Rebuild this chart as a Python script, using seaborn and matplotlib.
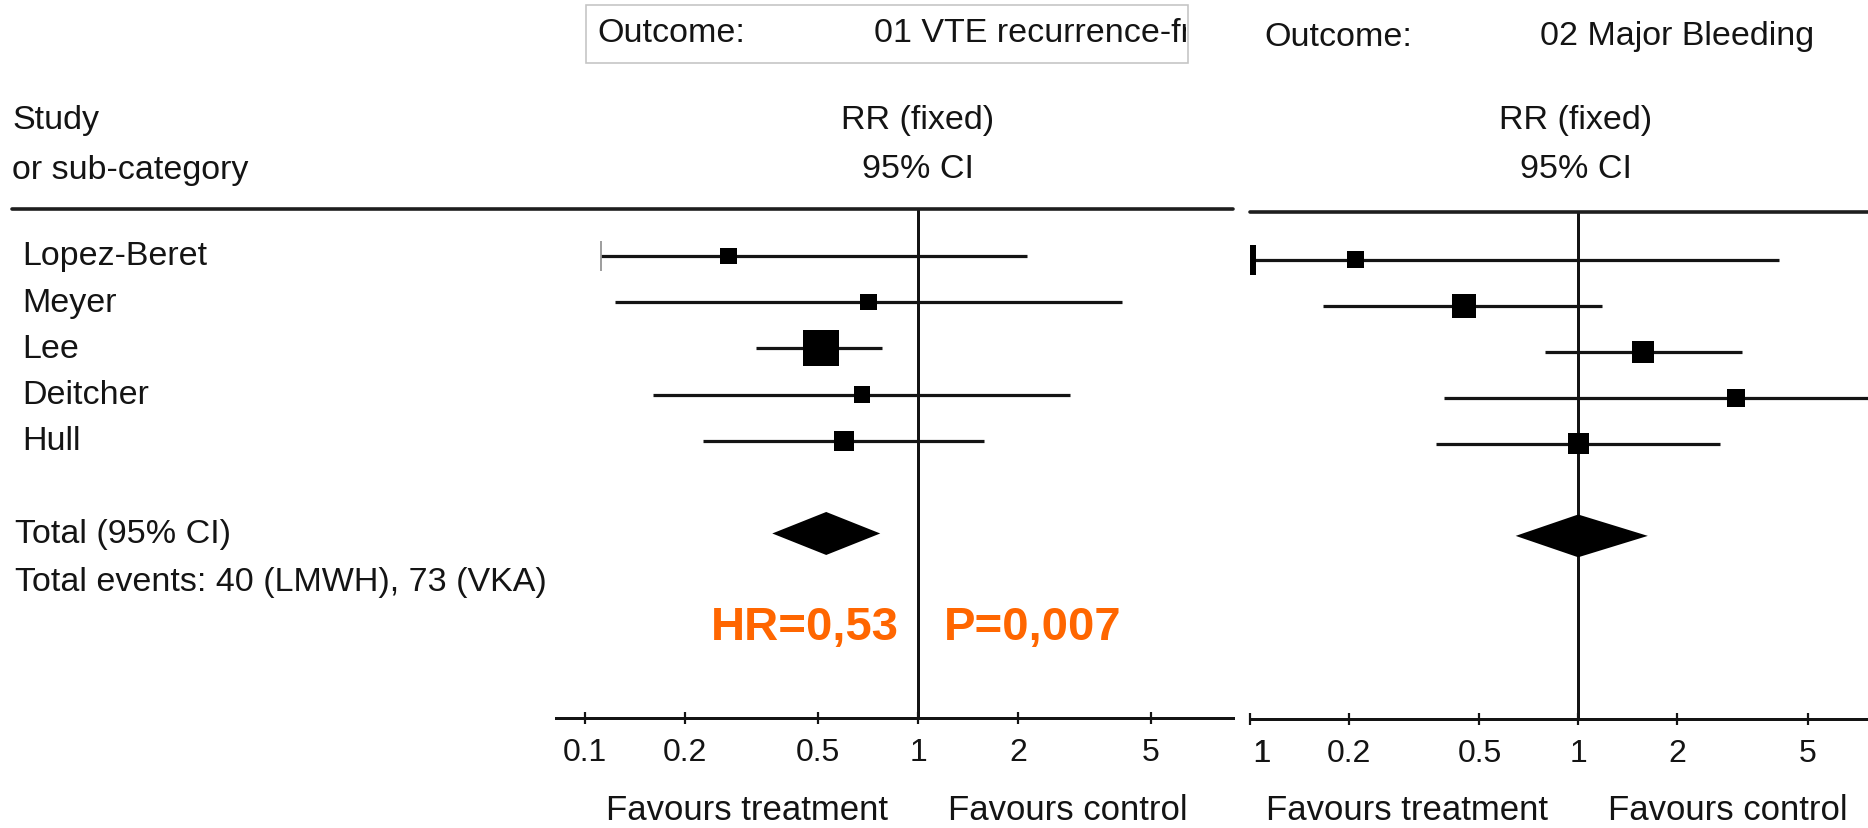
import numpy as np
import pandas as pd
import matplotlib
matplotlib.use("Agg")
import matplotlib.pyplot as plt
import seaborn as sns
from matplotlib.lines import Line2D
from matplotlib.patches import Rectangle
from matplotlib.ticker import NullLocator
from matplotlib.transforms import blended_transform_factory, offset_copy, Bbox, TransformedBbox

# ---------------- data ----------------
studies = ["Lopez-Beret", "Meyer", "Lee", "Deitcher", "Hull"]

# 01 VTE recurrence
vte_rr = [0.27, 0.71, 0.51, 0.68, 0.60]
vte_lo = [0.112, 0.123, 0.327, 0.16, 0.226]
vte_hi = [2.13, 4.10, 0.78, 2.87, 1.58]
vte_weight = [10.8, 10.8, 51.6, 10.8, 15.9]
vte_total = [0.365, 0.53, 0.77]          # lower, estimate, upper

# 02 Major bleeding
bleed_rr = [0.21, 0.45, 1.58, 3.03, 1.00]
bleed_lo = [0.05, 0.167, 0.79, 0.39, 0.37]
bleed_hi = [4.1, 1.18, 3.16, 9.0, 2.71]
bleed_weight = [13.7, 27.2, 22.9, 15.3, 20.9]
bleed_total = [0.645, 1.00, 1.63]

tick_values = [0.1, 0.2, 0.5, 1, 2, 5]
tick_labels = ["0.1", "0.2", "0.5", "1", "2", "5"]

outcome_left = "01 VTE recurrence-free"
outcome_right = "02 Major Bleeding"
total_label = "Total (95% CI)"
events_label = "Total events: 40 (LMWH), 73 (VKA)"
hr_label = "HR=0,53"
p_label = "P=0,007"

# ---------------- style ----------------
sns.set_theme(style="white")
plt.rcParams['font.family'] = ['Liberation Sans', 'DejaVu Sans']

W, H = 1868, 829
fig = plt.figure(figsize=(W / 100, H / 100), dpi=100)
PX = 72 / 100  # points per pixel
INK = '#141414'
ORANGE = '#FF6600'
FS = 24.5
TICK_FS = 23
TICK_LEN = 9
TICK_PAD = 9


def fx(px):
    return px / W


def fy(py):
    return 1 - py / H


axL = fig.add_axes([fx(556), fy(719), fx(1233) - fx(556), fy(210) - fy(719)])
axR = fig.add_axes([fx(1250), fy(720), fx(1868) - fx(1250), fy(213) - fy(720)])


def forest(ax, rr, lo, hi, wt, total, xlim, ylim, max_side_px):
    ax.set_xscale('log')
    rows = np.arange(len(rr))
    ax.axvline(1, color=INK, lw=3 * PX, zorder=1)
    ax.hlines(rows, lo, hi, color=INK, lw=3.2 * PX, zorder=2)
    w = np.asarray(wt, dtype=float)
    side_pt = max_side_px * PX * np.sqrt(w / w.max())
    df = pd.DataFrame({'rr': rr, 'row': rows})
    sns.scatterplot(data=df, x='rr', y='row', marker='s', s=side_pt ** 2,
                    color='black', linewidth=0, ax=ax, legend=False, zorder=3)
    t_lo, t_est, t_hi = total
    tr = len(rr) + 1
    h = 21.5 / 46.25
    ax.fill([t_lo, t_est, t_hi, t_est], [tr, tr - h, tr, tr + h],
            color='black', lw=0, zorder=3)
    ax.set_xlim(*xlim)
    ax.set_ylim(*ylim)
    ax.set_xticks(tick_values)
    ax.set_xticklabels(tick_labels)
    ax.xaxis.set_minor_locator(NullLocator())
    ax.set_yticks([])
    ax.set_xlabel('')
    ax.set_ylabel('')
    for s in ['left', 'right', 'top']:
        ax.spines[s].set_visible(False)
    ax.spines['bottom'].set_linewidth(3 * PX)
    ax.spines['bottom'].set_color(INK)
    ax.tick_params(axis='x', direction='inout', length=TICK_LEN, width=2.2 * PX,
                   pad=TICK_PAD, labelsize=TICK_FS, colors=INK, bottom=True)
    ax.patch.set_alpha(0)


forest(axL, vte_rr, vte_lo, vte_hi, vte_weight, vte_total,
       (0.0818, 8.83), (9.99, -1.016), 36)
forest(axR, bleed_rr, bleed_lo, bleed_hi, bleed_weight, bleed_total,
       (0.1064, 7.64), (9.98, -1.04), 24)

# thin cap on the first VTE interval
axL.plot([vte_lo[0]], [0], marker='|', ms=30 * PX, mew=1.6 * PX, color='#888888', zorder=2)
# truncated lower bound in the bleeding panel
xl = axR.get_xlim()[0]
for i, v in enumerate(bleed_lo):
    if v < xl:
        axR.plot([xl * 10 ** (3 / 333)], [i], marker='|', ms=30 * PX, mew=6 * PX,
                 color='black', zorder=4, clip_on=False)

# partially visible "0.1" tick label on the cropped right panel
trR = offset_copy(blended_transform_factory(axR.transData, axR.transAxes), fig=fig,
                  y=-(TICK_PAD + TICK_LEN / 2), units='points')
t01 = fig.text(0.1, 0, "0.1", transform=trR, ha='center', va='top',
               fontsize=TICK_FS, color=INK, zorder=3)
# the reference panel is cropped at its left edge: hide what lies left of it
fig.add_artist(Rectangle((fx(1212), fy(790)), fx(1252.5) - fx(1212), fy(727) - fy(790),
                         transform=fig.transFigure, facecolor='white',
                         edgecolor='none', zorder=10))

# ---------------- header ----------------
box = Rectangle((fx(586), fy(64)), fx(1188) - fx(586), fy(6) - fy(64),
                transform=fig.transFigure, fill=False, edgecolor='#c4c4c4', lw=1.6 * PX)
fig.add_artist(box)
fig.text(fx(597), fy(33), "Outcome:", fontsize=FS, color=INK, va='center', ha='left')
to = fig.text(fx(874), fy(33), outcome_left, fontsize=FS, color=INK, va='center', ha='left')
to.set_clip_box(TransformedBbox(Bbox([[fx(586), fy(64)], [fx(1186), fy(6)]]), fig.transFigure))
to.set_clip_on(True)
fig.text(fx(1264), fy(37), "Outcome:", fontsize=FS, color=INK, va='center', ha='left')
fig.text(fx(1540), fy(37), outcome_right, fontsize=FS, color=INK, va='center', ha='left')

fig.text(fx(12), fy(120), "Study", fontsize=FS, color=INK, va='center', ha='left')
fig.text(fx(12), fy(170), "or sub-category", fontsize=FS, color=INK, va='center', ha='left')
for cx in (918, 1576):
    fig.text(fx(cx), fy(120), "RR (fixed)", fontsize=FS, color=INK, va='center', ha='center')
    fig.text(fx(cx), fy(170), "95% CI", fontsize=FS, color=INK, va='center', ha='center')

fig.add_artist(Line2D([fx(12), fx(1233)], [fy(210), fy(210)], transform=fig.transFigure,
                      lw=3.6 * PX, color='#1e1e1e'))
fig.add_artist(Line2D([fx(1250), fx(1868)], [fy(213), fy(213)], transform=fig.transFigure,
                      lw=3.6 * PX, color='#1e1e1e'))

# ---------------- study labels ----------------
lab_tr = blended_transform_factory(fig.transFigure, axL.transData)
for i, name in enumerate(studies):
    axL.text(fx(22), i, name, transform=lab_tr, fontsize=FS, color=INK,
             va='center', ha='left', clip_on=False)
axL.text(fx(15), len(studies) + 1, total_label, transform=lab_tr, fontsize=FS,
         color=INK, va='center', ha='left', clip_on=False)
fig.text(fx(15), fy(583), events_label, fontsize=FS, color=INK, va='center', ha='left')

# ---------------- HR / P ----------------
fig.text(fx(899), fy(640), hr_label, fontsize=34, fontweight='bold', color=ORANGE,
         ha='right', va='baseline')
fig.text(fx(944), fy(640), p_label, fontsize=34, fontweight='bold', color=ORANGE,
         ha='left', va='baseline')

# ---------------- favours labels ----------------
for ax in (axL, axR):
    base = blended_transform_factory(ax.transData, fig.transFigure)
    ax.text(1, fy(811), "Favours treatment",
            transform=offset_copy(base, fig=fig, x=-30, units='dots'),
            fontsize=25, color=INK, ha='right', va='center', clip_on=False)
    ax.text(1, fy(811), "Favours control",
            transform=offset_copy(base, fig=fig, x=30, units='dots'),
            fontsize=25, color=INK, ha='left', va='center', clip_on=False)

fig.savefig("out.png", dpi=100, facecolor='white')
